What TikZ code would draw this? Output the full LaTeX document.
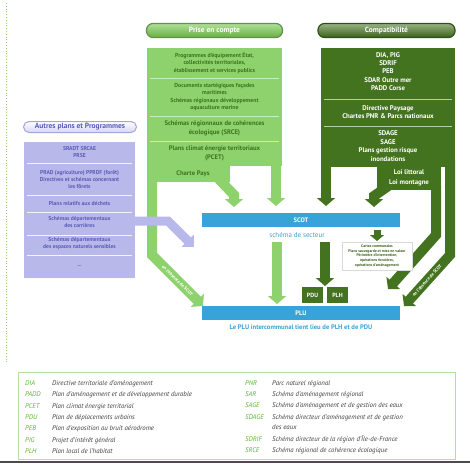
\documentclass[tikz,border=0pt]{standalone}
\usepackage{fontspec}
\setmainfont{PT Sans}
\usetikzlibrary{arrows.meta}
\definecolor{lg}{HTML}{8DD26C}
\definecolor{lgp}{HTML}{74C34A}
\definecolor{lgt}{HTML}{3C7420}
\definecolor{lgl}{HTML}{C9EDB8}
\definecolor{dg}{HTML}{44731F}
\definecolor{dgl}{HTML}{B9C9A9}
\definecolor{bl}{HTML}{37A3D9}
\definecolor{lav}{HTML}{B8B8EB}
\definecolor{lavt}{HTML}{5B5BB8}
\definecolor{lavp}{HTML}{DCDCF6}
\definecolor{legg}{HTML}{5CB82E}
\definecolor{legt}{HTML}{404040}
\begin{document}
\begin{tikzpicture}[x=1pt,y=-1pt,
  lgarrow/.style={draw=lg, line width=10pt, line join=miter, -{Triangle[width=18pt,length=8pt]}},
  dgarrow/.style={draw=dg, line width=10pt, line join=miter, -{Triangle[width=18pt,length=8pt]}},
  lavarrow/.style={draw=lav, line width=9pt, line join=miter, -{Triangle[width=17pt,length=9pt]}},
  pill/.style={rounded corners=6.5pt, minimum height=14pt, inner sep=0pt, line width=1.2pt, font=\fontsize{7.5}{9}\selectfont\bfseries},
  lgtxt/.style={align=center, inner sep=0pt, text=lgt, font=\fontsize{5.8}{7.6}\selectfont\bfseries},
  lgtxtb/.style={align=center, inner sep=0pt, text=lgt, font=\fontsize{6.6}{9}\selectfont\bfseries},
  dgtxt/.style={align=center, inner sep=0pt, text=white, font=\fontsize{6.8}{8.3}\selectfont\bfseries},
  lavtxt/.style={align=center, inner sep=0pt, text=lavt, font=\fontsize{5.6}{7}\selectfont\bfseries},
  bar/.style={fill=bl, minimum width=198pt, minimum height=14pt, inner sep=0pt, text=white, font=\fontsize{6.5}{8}\selectfont\bfseries},
  dgbox/.style={fill=dg, minimum width=21pt, minimum height=16pt, inner sep=0pt, text=white, font=\fontsize{6}{7}\selectfont\bfseries},
  abbr/.style={anchor=base west, inner sep=0pt, text=legg, font=\fontsize{6.8}{8}\selectfont\itshape},
  desc/.style={anchor=base west, inner sep=0pt, text=legt, font=\fontsize{6.8}{8}\selectfont\itshape},
  sepline/.style={line width=0.9pt},
  absence/.style={sloped, inner sep=0pt, text=white, font=\fontsize{4.6}{5}\selectfont\bfseries}
]
\useasboundingbox (0,0) rectangle (470,467);
\fill[white] (0,0) rectangle (470,467);
\draw[lg, dotted, line width=0.8pt] (6,3) -- (6,362);

% ---------- Prise en compte ----------
\node[pill, top color=lg!70!white, bottom color=lgp!90!black, draw=lgt!80, text=white, minimum width=136pt] (pec) at (214.5,30.5) {Prise en compte};
\fill[lg] (147,48) rectangle (282,166);
\fill[lg] (157,164) rectangle (230,182);
\draw[lgarrow] (152,160) -- (152,255) -- node[absence, pos=0.5]{en l'absence de SCOT} (203,306);
\draw[lgarrow] (276,160) -- (276,206);
\draw[lgarrow] (216,176) -- (234,195) -- (234,207);
\node[lgtxt] (p1) at (214.5,63) {Programmes d'équipement État,\\collectivités territoriales,\\établissement et services publics};
\draw[sepline, lgl] (150,78) -- (279,78);
\node[lgtxt] (p2) at (214.5,97) {Documents startégiques façades\\maritimes\\Schémas régionaux développement\\aquaculture marine};
\draw[sepline, lgl] (150,116) -- (279,116);
\node[lgtxtb] (p3) at (214.5,128) {Schémas régionnaux de cohérences\\écologique (SRCE)};
\draw[sepline, lgl] (150,141) -- (279,141);
\node[lgtxtb] (p4) at (214.5,153) {Plans climat énergie territoriaux\\(PCET)};
\node[lgtxtb] (cp) at (193,173.5) {Charte Pays};

% ---------- Compatibilité ----------
\node[pill, top color=dg!55!white, bottom color=dg!85!black, draw=dg!70!black, text=white, minimum width=137pt] (comp) at (386.5,30.5) {Compatibilité};
\fill[dg] (321,48) rectangle (455,167);
\fill[dg] (377,165) rectangle (441,190);
\draw[dgarrow] (326,160) -- (326,206);
\draw[dgarrow] (394,182) -- (374,196) -- (374,207);
\draw[dgarrow] (436,185) -- (436,235) -- (388,289);
\draw[dgarrow] (450,160) -- (450,255) -- node[absence, pos=0.5]{en l'absence de SCOT} (404,306);
\node[dgtxt] (c1) at (388,71.5) {DIA, PIG\\SDRIF\\PEB\\SDAR Outre mer\\PADD Corse};
\draw[sepline, dgl] (324,99) -- (452,99);
\node[dgtxt] (c2) at (388,112) {Directive Paysage\\Chartes PNR \& Parcs nationaux};
\draw[sepline, dgl] (324,126) -- (452,126);
\node[dgtxt, font=\fontsize{6.8}{8.7}\selectfont\bfseries] (c3) at (388,146) {SDAGE\\SAGE\\Plans gestion risque\\inondations};
\node[dgtxt, font=\fontsize{6.8}{9.8}\selectfont\bfseries] (loi) at (409,178) {Loi littoral\\Loi montagne};

% ---------- Autres plans ----------
\node[pill, top color=white, bottom color=lavp!80!lav, draw=lavt!55, text=lavt, minimum width=113pt, minimum height=11pt, rounded corners=5.5pt, line width=1pt] (ap) at (80,127) {Autres plans et Programmes};
\fill[lav] (24,142) rectangle (135,278);
\node[lavtxt, font=\fontsize{5.6}{6.2}\selectfont\bfseries] (l1) at (79.5,152) {SRADT SRCAE\\PRSE};
\draw[sepline, white!85!lav] (27,163) -- (132,163);
\node[lavtxt] (l2) at (79.5,179) {PRAD (agriculture) PPRDF (forêt)\\Directives et schémas concernant\\les fôrets};
\draw[sepline, white!85!lav] (27,195) -- (132,195);
\node[lavtxt] (l3) at (79.5,203.5) {Plans relatifs aux déchets};
\draw[sepline, white!85!lav] (27,212) -- (132,212);
\node[lavtxt] (l4) at (79.5,222.5) {Schémas départementaux\\des carrières};
\draw[sepline, white!85!lav] (27,235) -- (132,235);
\node[lavtxt] (l5) at (79.5,243.5) {Schémas départementaux\\des espaces naturels sensibles};
\draw[sepline, white!85!lav] (27,255) -- (132,255);
\node[lavtxt] (l6) at (79.5,266) {...};
\draw[lavarrow] (130,221) -- (168,221) -- (194,247);

% ---------- SCOT / PLU ----------
\node[bar] (scot) at (301,220) {SCOT};
\node[text=bl, font=\fontsize{7}{8}\selectfont, inner sep=0pt] (sect) at (297,235) {schéma de secteur};
\node[bar] (plu) at (301,313) {PLU};
\node[text=bl, font=\fontsize{6.6}{8}\selectfont\bfseries, inner sep=0pt] (plut) at (301,327) {Le PLU intercommunal tient lieu de PLH et de PDU};
\draw[lgarrow] (277,242) -- (277,304);
\draw[dgarrow] (325,242) -- (325,286);
\node[dgbox] (pdu) at (312.5,295) {PDU};
\node[dgbox] (plh) at (337.5,295) {PLH};
\draw[dg, line width=7pt, -{Triangle[width=14pt,length=6pt]}] (377,230) -- (377,241);
\node[draw=gray!30, fill=white, minimum width=70pt, minimum height=28pt, align=center, inner sep=0pt, text=dg!80!black, font=\fontsize{3.8}{4.7}\selectfont\bfseries] (cc) at (377,256) {Cartes communales\\Plans sauvegarde et mise en valeur\\Périmètre d'intervention,\\opérations foncières,\\opérations d'aménagement};

% ---------- Legend ----------
\draw[legg!45, line width=0.6pt] (18,372) rectangle (455,459);
\node[abbr] (a1) at (25,385.5) {DIA};   \node[desc] (d1) at (52,385.5) {Directive territoriale d'aménagement};
\node[abbr] (a2) at (25,396.8) {PADD};  \node[desc] (d2) at (52,396.8) {Plan d'aménagement et de développement durable};
\node[abbr] (a3) at (25,408.1) {PCET};  \node[desc] (d3) at (52,408.1) {Plan climat énergie territorial};
\node[abbr] (a4) at (25,419.4) {PDU};   \node[desc] (d4) at (52,419.4) {Plan de déplacements urbains};
\node[abbr] (a5) at (25,430.7) {PEB};   \node[desc] (d5) at (52,430.7) {Plan d'exposition au bruit aérodrome};
\node[abbr] (a6) at (25,442.0) {PIG};   \node[desc] (d6) at (52,442.0) {Projet d'intérêt général};
\node[abbr] (a7) at (25,453.3) {PLH};   \node[desc] (d7) at (52,453.3) {Plan local de l'habitat};
\node[abbr] (b1) at (245,385.5) {PNR};   \node[desc] (e1) at (272,385.5) {Parc naturel régional};
\node[abbr] (b2) at (245,396.5) {SAR};   \node[desc] (e2) at (272,396.5) {Schéma d'aménagement régional};
\node[abbr] (b3) at (245,407.5) {SAGE};  \node[desc] (e3) at (272,407.5) {Schéma d'aménagement et de gestion des eaux};
\node[abbr] (b4) at (245,419.0) {SDAGE}; \node[desc] (e4) at (272,419.0) {Schéma directeur d'aménagement et de gestion};
\node[desc] (e4b) at (272,429.5) {des eaux};
\node[abbr] (b5) at (245,441.0) {SDRIF}; \node[desc] (e5) at (272,441.0) {Schéma directeur de la région d'Île-de-France};
\node[abbr] (b6) at (245,452.0) {SRCE};  \node[desc] (e6) at (272,452.0) {Schéma régional de cohérence écologique};
\draw[gray!60!black, line width=2pt] (0,461.5) -- (470,461.5);
\end{tikzpicture}
\end{document}
